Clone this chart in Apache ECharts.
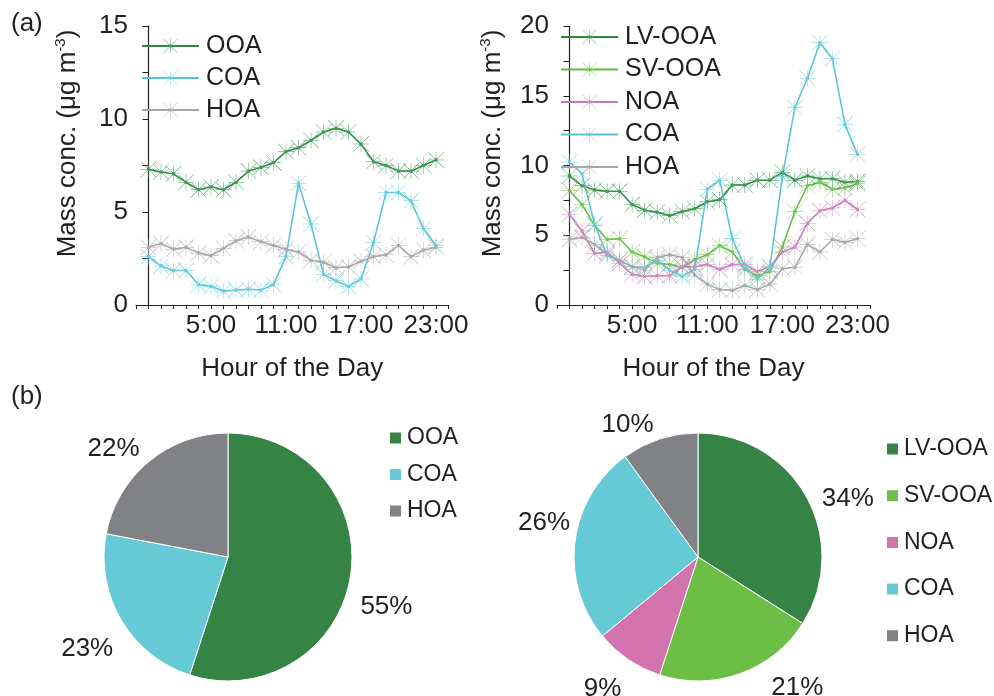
<!DOCTYPE html>
<html>
<head>
<meta charset="utf-8">
<script src="https://cdn.jsdelivr.net/npm/echarts@6/dist/echarts.min.js"></script>
<style>html,body{margin:0;padding:0;background:#fff}#c{width:994px;height:696px}</style>
</head>
<body>
<div id="c"></div>
<script>
// ---- data ----
var hours = [0,1,2,3,4,5,6,7,8,9,10,11,12,13,14,15,16,17,18,19,20,21,22,23];
var xTickHours = [5, 11, 17, 23];
var xTickLabels = ['5:00', '11:00', '17:00', '23:00'];

// panel (a) left
var leftOOA = [7.3,7.15,7.05,6.6,6.2,6.35,6.2,6.6,7.2,7.4,7.65,8.25,8.45,8.85,9.3,9.5,9.3,8.65,7.7,7.5,7.2,7.2,7.5,7.8];
var leftCOA = [2.6,2.1,1.85,1.85,1.1,1.0,0.75,0.8,0.85,0.8,1.1,2.6,6.55,4.35,1.65,1.3,1.0,1.4,3.35,6.05,6.05,5.6,4.1,3.2];
var leftHOA = [3.1,3.3,3.0,3.1,2.8,2.65,3.05,3.45,3.65,3.4,3.2,3.0,2.85,2.4,2.3,2.0,2.05,2.35,2.6,2.7,3.2,2.6,2.95,3.1];

// panel (a) right
var rightLVOOA = [9.25,8.55,8.25,8.15,8.15,7.2,6.8,6.65,6.4,6.7,6.9,7.4,7.55,8.6,8.6,8.95,8.95,9.5,8.95,9.25,9.05,9.05,8.8,8.85];
var rightSVOOA = [8.2,7.2,5.7,4.7,4.75,3.8,3.45,3.0,2.9,2.7,3.25,3.6,4.25,3.8,2.55,2.1,2.4,4.15,6.7,8.55,8.8,8.3,8.4,8.7];
var rightNOA = [6.5,5.3,3.7,3.8,3.0,2.2,2.05,2.1,2.1,2.75,2.75,2.9,2.55,2.9,2.9,2.4,2.75,3.8,4.15,5.85,6.75,6.95,7.5,6.85];
var rightCOA = [10.25,9.4,5.8,3.55,3.2,2.75,2.7,3.2,2.5,2.05,2.55,8.3,8.95,4.75,2.75,1.85,2.7,9.2,14.15,16.25,18.8,17.65,12.95,10.8];
var rightHOA = [4.7,4.85,4.35,3.65,3.2,2.75,2.5,3.4,3.6,3.4,2.15,1.5,1.1,1.05,1.4,1.1,1.5,2.6,2.7,4.35,3.8,4.7,4.5,4.75];

// panel (b) pies
var pieLeftNames = ['OOA', 'COA', 'HOA'];
var pieLeftValues = [55, 23, 22];
var pieRightNames = ['LV-OOA', 'SV-OOA', 'NOA', 'COA', 'HOA'];
var pieRightValues = [34, 21, 9, 26, 10];

// ---- styles ----
var FONT = 'Liberation Sans, Arial, Helvetica, sans-serif';
var TXT = '#231f20';
var lineColors = {
  'OOA': ['#2e8540', '#3f9a55'], 'LV-OOA': ['#2e8540', '#3f9a55'],
  'SV-OOA': ['#62b844', '#72c553'], 'NOA': ['#c679b6', '#cf8cc0'],
  'COA': ['#55c3d3', '#6bcfdc'], 'HOA': ['#a3a5a8', '#a9abae']
};
var pieColors = {
  'OOA': '#358446', 'LV-OOA': '#358446', 'SV-OOA': '#6dbe45',
  'NOA': '#d372ad', 'COA': '#65c9d6', 'HOA': '#808285'
};
var STAR = 'path://M0 48.5L100 48.5L100 51.5L0 51.5Z M48.5 0L51.5 0L51.5 100L48.5 100Z M2.1 0L100 97.9L97.9 100L0 2.1Z M97.9 0L100 2.1L2.1 100L0 97.9Z M40 40L60 40L60 60L40 60Z';

function lineSeries(prefix, name, values, idx) {
  var c = lineColors[name];
  return {
    type: 'line', name: prefix + name, xAxisIndex: idx, yAxisIndex: idx,
    data: hours.map(function (h, i) { return [h, values[i]]; }),
    symbol: STAR, symbolSize: 16, showSymbol: true,
    itemStyle: { color: c[1] },
    lineStyle: { color: c[0], width: 1.5 },
    animation: false
  };
}

function xAxis(idx) {
  return {
    type: 'value', gridIndex: idx, min: -1, max: 24, interval: 1,
    axisLine: { show: true, lineStyle: { color: TXT, width: 1.2 } },
    axisTick: { show: true, length: 4, inside: false, lineStyle: { color: TXT, width: 1 } },
    splitLine: { show: false },
    axisLabel: {
      show: true, margin: 8, fontSize: 26, fontFamily: FONT, color: TXT,
      showMinLabel: true, showMaxLabel: true,
      formatter: function (v) { var k = xTickHours.indexOf(v); return k >= 0 ? xTickLabels[k] : ''; }
    },
    name: 'Hour of the Day', nameLocation: 'middle', nameGap: 51,
    nameTextStyle: { fontSize: 26, fontFamily: FONT, color: TXT }
  };
}

function yAxis(idx, max, gap, pad) {
  return {
    type: 'value', gridIndex: idx, min: 0, max: max, interval: 5,
    axisLine: { show: true, lineStyle: { color: TXT, width: 1.2 } },
    axisTick: { show: true, length: 6, lineStyle: { color: TXT, width: 1 } },
    minorTick: { show: true, splitNumber: 2, length: 6, lineStyle: { color: TXT, width: 1 } },
    splitLine: { show: false },
    axisLabel: { margin: 8, fontSize: 26, fontFamily: FONT, color: TXT },
    name: 'Mass conc. (\u03bcg m{sup|-3})', nameLocation: 'middle', nameRotate: 90, nameGap: gap,
    nameTextStyle: {
      fontSize: 26, fontFamily: FONT, color: TXT, padding: pad,
      rich: { sup: { fontSize: 15, fontFamily: FONT, color: TXT, verticalAlign: 'top', padding: [0, 0, 14, 0] } }
    }
  };
}

function pieData(names, values, offsets) {
  return names.map(function (n, i) {
    return { name: n, value: values[i], itemStyle: { color: pieColors[n] }, label: { offset: offsets[i] } };
  });
}

var leftLabelOffsets = [[-2, 29], [3, 25], [0, -7]];
var rightLabelOffsets = [[4, 5], [24, 8], [2, 23], [7, -18], [1, -8]];

var pieBase = {
  type: 'pie', radius: 124, startAngle: 90, clockwise: true, avoidLabelOverlap: false,
  itemStyle: { borderColor: '#ffffff', borderWidth: 1 },
  label: { show: true, position: 'outside', formatter: '{c}%', fontSize: 26, fontFamily: FONT, color: TXT },
  labelLine: { show: false, length: 7, length2: 0 },
  emphasis: { disabled: true }, animation: false
};

function stripName(n) { return n.replace(/^[LR]:/, ''); }

var lineLegendBase = {
  orient: 'vertical', itemWidth: 57, itemHeight: 18, padding: 0,
  textStyle: { fontSize: 25, fontFamily: FONT, color: TXT, lineHeight: 26, padding: [0, 0, 0, 2] },
  formatter: stripName, selectedMode: false
};
var pieLegendBase = {
  orient: 'vertical', icon: 'rect', itemWidth: 13, itemHeight: 13, padding: 0,
  textStyle: { fontSize: 23, fontFamily: FONT, color: TXT, lineHeight: 26 },
  selectedMode: false
};

var chart = echarts.init(document.getElementById('c'), null, { renderer: 'canvas' });
chart.setOption({
  backgroundColor: '#ffffff',
  animation: false,
  title: [
    { text: '(a)', left: 6, top: 6, textStyle: { fontSize: 26, fontWeight: 'normal', fontFamily: FONT, color: TXT } },
    { text: '(b)', left: 6, top: 379, textStyle: { fontSize: 26, fontWeight: 'normal', fontFamily: FONT, color: TXT } }
  ],
  grid: [
    { left: 136, top: 26, width: 312.5, height: 279 },
    { left: 557, top: 26, width: 313, height: 279 }
  ],
  xAxis: [xAxis(0), xAxis(1)],
  yAxis: [yAxis(0, 15, 54, [0, 0, 0, 44]), yAxis(1, 20, 50, [0, 0, 0, 44])],
  legend: [
    Object.assign({}, lineLegendBase, { left: 141, top: 33, itemGap: 6, data: ['L:OOA', 'L:COA', 'L:HOA'] }),
    Object.assign({}, lineLegendBase, { left: 560, top: 24, itemGap: 6.5, data: ['R:LV-OOA', 'R:SV-OOA', 'R:NOA', 'R:COA', 'R:HOA'] }),
    Object.assign({}, pieLegendBase, { left: 388, top: 425, itemGap: 10.5, data: pieLeftNames }),
    Object.assign({}, pieLegendBase, { left: 885, top: 436, itemGap: 20.7, data: pieRightNames })
  ],
  series: [
    lineSeries('L:', 'OOA', leftOOA, 0),
    lineSeries('L:', 'COA', leftCOA, 0),
    lineSeries('L:', 'HOA', leftHOA, 0),
    lineSeries('R:', 'LV-OOA', rightLVOOA, 1),
    lineSeries('R:', 'SV-OOA', rightSVOOA, 1),
    lineSeries('R:', 'NOA', rightNOA, 1),
    lineSeries('R:', 'COA', rightCOA, 1),
    lineSeries('R:', 'HOA', rightHOA, 1),
    Object.assign({}, pieBase, { center: [228, 557], data: pieData(pieLeftNames, pieLeftValues, leftLabelOffsets) }),
    Object.assign({}, pieBase, { center: [698, 557], data: pieData(pieRightNames, pieRightValues, rightLabelOffsets) })
  ]
});
</script>
</body>
</html>
